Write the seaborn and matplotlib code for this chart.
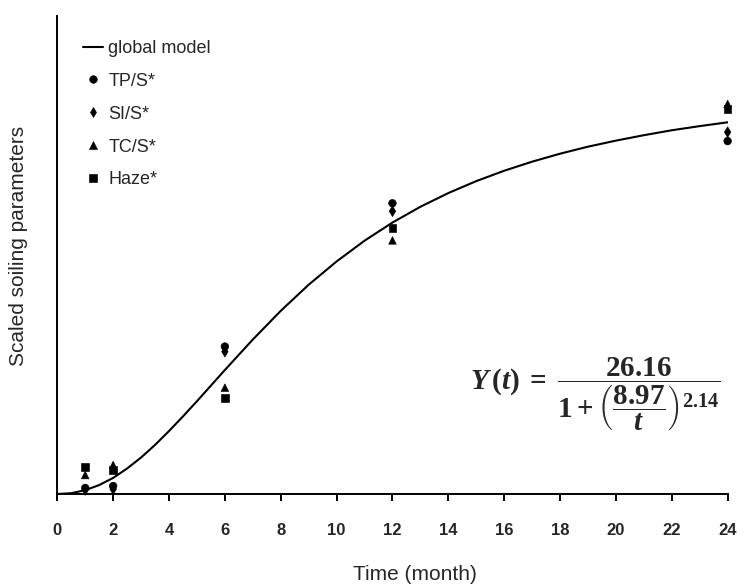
import matplotlib

matplotlib.use("Agg")
import matplotlib.pyplot as plt
import pandas as pd
import seaborn as sns

months = [1, 2, 6, 12, 24]
tp_s = [0.38, 0.50, 9.25, 18.24, 22.14]
si_s = [0.25, 0.30, 8.93, 17.74, 22.70]
tc_s = [1.19, 1.82, 6.67, 15.91, 24.47]
haze = [1.70, 1.51, 6.04, 16.67, 24.15]
series_names = ["TP/S*", "SI/S*", "TC/S*", "Haze*"]

# global model curve
model_t = [0, 0.5, 1, 1.5, 2, 2.5, 3, 3.5, 4, 4.5, 5, 5.5, 6, 7, 8, 9, 10, 11,
           12, 13, 14, 15, 16, 17, 18, 19, 20, 21, 22, 23, 24]
model_y = [0, 0.05, 0.24, 0.56, 1.01, 1.60, 2.29, 3.08, 3.95, 4.87, 5.82, 6.80,
           7.78, 9.69, 11.49, 13.13, 14.59, 15.89, 17.03, 18.02, 18.88, 19.63,
           20.28, 20.85, 21.35, 21.79, 22.17, 22.51, 22.82, 23.08, 23.32]

x_ticks = list(range(0, 25, 2))

sns.set_style("white")
plt.rcParams["font.family"] = ["Liberation Sans", "DejaVu Sans"]
plt.rcParams["mathtext.fontset"] = "custom"
plt.rcParams["mathtext.rm"] = "Liberation Serif:bold"
plt.rcParams["mathtext.it"] = "Liberation Serif:bold:italic"
plt.rcParams["mathtext.bf"] = "Liberation Serif:bold"

df = pd.DataFrame({
    "month": months * 4,
    "value": tp_s + si_s + tc_s + haze,
    "series": [n for n in series_names for _ in months],
})

fig = plt.figure(figsize=(7.44, 5.86), dpi=100)
ax = fig.add_axes([0.077, 0.157, 0.901, 0.816])

sns.lineplot(x=model_t, y=model_y, color="black", linewidth=1.5,
             label="global model", ax=ax)
sns.scatterplot(data=df, x="month", y="value", style="series",
                style_order=series_names,
                markers={"TP/S*": "o", "SI/S*": "d", "TC/S*": "^", "Haze*": "s"},
                color="black", edgecolor="black", s=30, clip_on=False, ax=ax)

ax.set_xlim(0, 24)
ax.set_ylim(0, 30)
ax.set_xticks(x_ticks)
ax.set_yticks([])
sns.despine(ax=ax)
for side in ("left", "bottom"):
    ax.spines[side].set_linewidth(1.4)
    ax.spines[side].set_color("black")
ax.tick_params(axis="x", bottom=True, direction="out", length=5, width=1.4,
               color="black", labelsize=12, pad=16)
for lbl in ax.get_xticklabels():
    lbl.set_fontweight("bold")

ax.set_xlabel("Time (month)", fontsize=15)
ax.xaxis.set_label_coords(0.534, -0.148)
ax.set_ylabel("Scaled soiling parameters", fontsize=15)
ax.yaxis.set_label_coords(-0.044, 0.519)

handles, labels = ax.get_legend_handles_labels()
ax.legend(handles, labels, loc="upper left", bbox_to_anchor=(0.1116, 0.932),
          bbox_transform=fig.transFigure, frameon=False, fontsize=13,
          handlelength=1.1, handletextpad=0.3, labelspacing=0.88,
          borderpad=0, borderaxespad=0)

fig.text(0.80, 0.327,
         r"$Y\,(t)\;=\;\dfrac{26.16}{1+\left(\dfrac{8.97}{t}\right)^{2.14}}$",
         fontsize=21, ha="center", va="center")

fig.savefig("out.png", dpi=100)
plt.close(fig)
